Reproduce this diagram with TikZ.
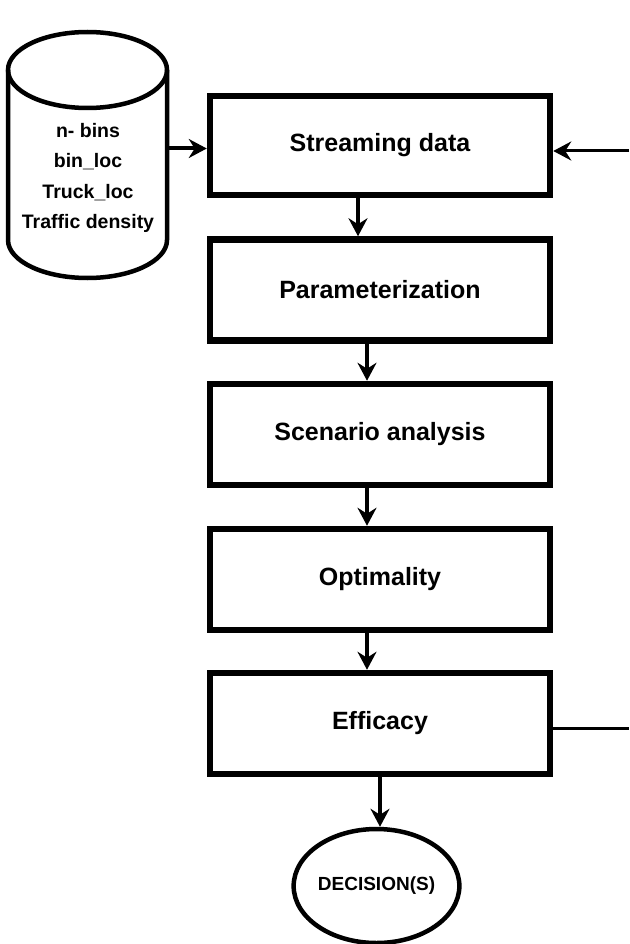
\documentclass[tikz,border=0pt]{standalone}
\usepackage{fontspec}
\setmainfont{Liberation Sans}
\usetikzlibrary{arrows.meta,calc,shapes.geometric}
\begin{document}
\begin{tikzpicture}[x=1pt,y=1pt,
  stepbox/.style={draw=black, line width=6.5pt, minimum width=340pt, minimum height=101pt,
    inner sep=0pt, font=\fontsize{25}{30}\selectfont\bfseries},
  arr/.style={line width=4pt, -{Stealth[length=18pt,width=19pt,inset=6pt]}},
  plain/.style={line width=3pt}
]
\useasboundingbox (0,0) rectangle (629,-944);
\fill[white] (0,0) rectangle (629,-944);

% database cylinder
\draw[line width=4.5pt, fill=white] (8,-70) -- (8,-240) arc[start angle=180, end angle=360, x radius=79.5, y radius=38] -- (167,-70);
\draw[line width=4.5pt] (87.5,-70) ellipse[x radius=79.5, y radius=38];
\node (db) [inner sep=0pt, minimum width=159pt, align=center,
  font=\fontsize{19.5}{30.5}\selectfont\bfseries] at (88,-178)
  {n- bins\\bin\_loc\\Truck\_loc\\Traffic density};

% process boxes
\node (b1) [stepbox, minimum height=99pt] at (380,-145.5) {Streaming data};
\node (b2) [stepbox] at (380,-290) {Parameterization};
\node (b3) [stepbox] at (380,-434.5) {Scenario analysis};
\node (b4) [stepbox] at (380,-579.5) {Optimality};
\node (b5) [stepbox] at (380,-723.5) {Efficacy};

% decision ellipse
\node (dec) [draw=black, line width=4.5pt, ellipse, minimum width=161pt, minimum height=114pt,
  inner sep=0pt, font=\fontsize{19}{22}\selectfont\bfseries] at (376.5,-886) {DECISION(S)};

% connectors
\coordinate (dbin) at ([yshift=-3]b1.west);
\draw[arr] (db.east |- dbin) -- (dbin);
\draw[arr] ([xshift=-22]b1.south) -- ([xshift=-22]b2.north);
\draw[arr] ([xshift=-13]b2.south) -- ([xshift=-13]b3.north);
\draw[arr] ([xshift=-13]b3.south) -- ([xshift=-13]b4.north);
\draw[arr] ([xshift=-13]b4.south) -- ([xshift=-13]b5.north);
\draw[arr] (b5.south) -- (b5.south |- dec.north);

% feedback line ends (leave the picture at the right edge)
\coordinate (fbin) at (629,-151);
\coordinate (fbout) at (629,-728);
\draw[arr, line width=3pt] (fbin) -- (b1.east |- fbin);
\draw[plain] (b5.east |- fbout) -- (fbout);
\end{tikzpicture}
\end{document}
